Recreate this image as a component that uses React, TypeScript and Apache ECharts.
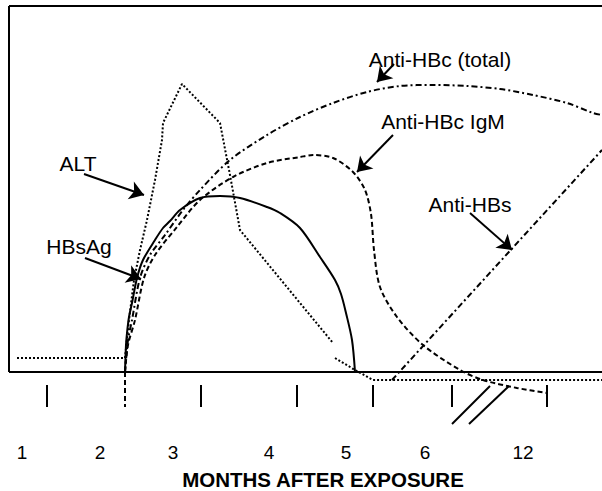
import React, { useEffect, useRef } from "react";
import * as echarts from "echarts";

// Arbitrary schematic units: x = time index, y = relative level (0 = baseline)
const X_MIN = 0;
const X_MAX = 593;
const Y_MIN = -58;
const Y_MAX = 366;

const hbsag: number[][] = [
  [116, 0], [117, 27], [118, 39], [120, 55], [123, 69], [128, 94], [134, 112], [146, 132],
  [154, 144], [161, 151], [171, 162], [191, 174], [211, 176], [231, 174], [258, 165],
  [271, 159], [291, 144], [311, 115], [326, 92], [332, 78], [337, 59], [343, 32], [346, 0],
];

const antiHbcTotal: number[][] = [
  [116, 0], [119, 32], [123, 52], [131, 94], [141, 117], [156, 137], [174, 162], [191, 182],
  [221, 212], [258, 237], [291, 255], [324, 269], [358, 280], [391, 286], [424, 287],
  [458, 286], [491, 283], [524, 277], [558, 269], [584, 259], [593, 257],
];

const antiHbcIgM: number[][] = [
  [116, 0], [119, 27], [126, 52], [135, 94], [146, 117], [168, 145], [191, 172], [224, 195],
  [258, 209], [291, 215], [304, 217], [324, 214], [344, 200], [356, 182], [362, 158],
  [365, 122], [371, 85], [388, 55], [414, 27], [451, 2], [474, -8], [508, -16], [538, -21],
];

const altRise: number[][] = [
  [8, 14], [116, 14], [120, 52], [125, 92], [131, 122], [138, 152], [146, 192], [153, 232],
  [154, 249], [173, 288], [211, 249], [221, 197], [231, 142], [291, 69], [324, 29],
];
const altTail: number[][] = [
  [326, 14], [346, 2], [364, -8], [593, -8],
];

const antiHbs: number[][] = [
  [383, -8], [593, 222],
];

const tickX = [38, 116, 192, 288, 364, 443, 538];
const tickLabels = ["1", "2", "3", "4", "5", "6", "12"];
const tickLabelPx = [22, 100, 173, 269, 346, 425, 523];

const black = "#000";

export default function App() {
  const ref = useRef<HTMLDivElement>(null);
  useEffect(() => {
    if (!ref.current) return;
    const chart = echarts.init(ref.current, undefined, { renderer: "svg" });
    const font = '"Liberation Sans", Arial, sans-serif';

    const frameLines = [
      [{ coord: [X_MIN, 0] }, { coord: [X_MAX, 0] }],
      [{ coord: [X_MIN, 0] }, { coord: [X_MIN, Y_MAX] }],
      [{ coord: [X_MIN, Y_MAX] }, { coord: [X_MAX, Y_MAX] }],
    ];
    const tickLines = tickX
      .filter((x) => x !== 116)
      .map((x) => [{ coord: [x, -13] }, { coord: [x, -35] }]);
    const breakLines = [
      [{ coord: [443, -52] }, { coord: [481, -14] }],
      [{ coord: [460, -52] }, { coord: [500, -14] }],
    ];
    const arrows = [
      [[75, 198], [135, 177]],
      [[76, 114], [132, 93]],
      [[385, 308], [368, 290]],
      [[384, 237], [348, 200]],
      [[461, 159], [503, 122]],
    ].map(([a, b]) => [{ coord: a }, { coord: b }]);

    const lineBase = {
      type: "line" as const,
      showSymbol: false,
      symbol: "none",
      clip: false,
      silent: true,
    };
    const dotted = { color: black, width: 2, type: [2, 2] };
    const dashDot = { color: black, width: 2, type: [6, 3, 2, 3] };

    chart.setOption({
      animation: false,
      grid: { left: 9, right: 0, top: 6, bottom: 61 },
      xAxis: { type: "value", min: X_MIN, max: X_MAX, show: false },
      yAxis: { type: "value", min: Y_MIN, max: Y_MAX, show: false },
      series: [
        {
          ...lineBase,
          name: "frame",
          data: [],
          markLine: {
            silent: true,
            symbol: ["none", "none"],
            label: { show: false },
            lineStyle: { color: black, width: 2, type: "solid" },
            data: [...frameLines, ...tickLines, ...breakLines],
          },
        },
        {
          ...lineBase,
          name: "tick2",
          data: [],
          markLine: {
            silent: true,
            symbol: ["none", "none"],
            label: { show: false },
            lineStyle: { color: black, width: 2, type: [5, 3] },
            data: [[{ coord: [116, 0] }, { coord: [116, -35] }]],
          },
        },
        {
          ...lineBase,
          name: "arrows",
          data: [],
          markLine: {
            silent: true,
            symbol: ["none", "arrow"],
            symbolSize: 14,
            label: { show: false },
            lineStyle: { color: black, width: 2, type: "solid" },
            data: arrows,
          },
        },
        { ...lineBase, name: "ALT", data: altRise, lineStyle: dotted },
        { ...lineBase, name: "ALT tail", data: altTail, lineStyle: dotted },
        {
          ...lineBase,
          name: "Anti-HBc (total)",
          data: antiHbcTotal,
          smooth: 0.3,
          lineStyle: dashDot,
        },
        {
          ...lineBase,
          name: "Anti-HBc IgM",
          data: antiHbcIgM,
          smooth: 0.3,
          lineStyle: { color: black, width: 2, type: [5, 3] },
        },
        {
          ...lineBase,
          name: "HBsAg",
          data: hbsag,
          smooth: 0.3,
          lineStyle: { color: black, width: 2, type: "solid" },
        },
        { ...lineBase, name: "Anti-HBs", data: antiHbs, lineStyle: dashDot },
      ],
      graphic: [
        ...[
          { t: "ALT", x: 78, y: 163 },
          { t: "HBsAg", x: 79, y: 246 },
          { t: "Anti-HBc (total)", x: 440, y: 59 },
          { t: "Anti-HBc IgM", x: 443, y: 121 },
          { t: "Anti-HBs", x: 470, y: 204 },
        ].map((d) => ({
          type: "text",
          x: d.x,
          y: d.y,
          silent: true,
          style: {
            text: d.t,
            align: "center",
            verticalAlign: "middle",
            font: `21px ${font}`,
            fill: black,
          },
        })),
        ...tickLabels.map((t, i) => ({
          type: "text",
          x: tickLabelPx[i],
          y: 452,
          silent: true,
          style: {
            text: t,
            align: "center",
            verticalAlign: "middle",
            font: `19px ${font}`,
            fill: black,
          },
        })),
        {
          type: "text",
          x: 323,
          y: 479,
          silent: true,
          style: {
            text: "MONTHS AFTER EXPOSURE",
            align: "center",
            verticalAlign: "middle",
            font: `bold 20.5px ${font}`,
            fill: black,
          },
        },
      ],
    });
    return () => chart.dispose();
  }, []);
  return (
    <div
      ref={ref}
      style={{ position: "absolute", left: 0, top: 0, width: 602, height: 491, background: "#fff" }}
    />
  );
}
